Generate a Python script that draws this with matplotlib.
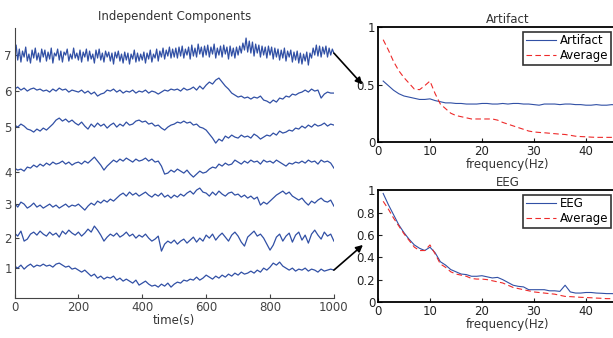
import numpy as np
import matplotlib.pyplot as plt

# time axis of the components (s)
t = np.arange(0, 1001, 10)
t7 = np.arange(0, 1001, 5)

# independent components (arbitrary units)
comp1 = [0.2, 0.0, 0.3, -0.1, 0.2, 0.4, 0.1, 0.3, 0.2, 0.4,
         0.2, 0.3, 0.1, 0.4, 0.5, 0.3, 0.1, 0.2, -0.1, 0.0,
         -0.2, -0.4, -0.2, -0.5, -0.8, -0.6, -1.0, -0.8, -1.1, -0.9,
         -1.0, -0.8, -1.2, -1.0, -1.3, -1.1, -1.3, -1.5, -1.2, -1.7,
         -1.5, -1.3, -1.6, -1.8, -1.7, -1.9, -1.6, -1.8, -1.5, -1.9,
         -1.6, -1.4, -1.5, -1.2, -1.3, -1.1, -1.2, -0.9, -1.2, -1.0,
         -0.7, -0.9, -1.1, -0.8, -1.0, -0.7, -0.9, -0.6, -0.8, -0.5,
         -0.7, -0.4, -0.6, -0.5, -0.3, -0.5, -0.2, -0.4, 0.0, -0.2,
         0.1, 0.5, 0.3, 0.6, 0.2, 0.0, -0.2, 0.0, -0.3, -0.1,
         -0.2, 0.0, -0.3, -0.1, -0.2, -0.4, -0.1, -0.3, -0.2, -0.1,
         -0.2]
comp2 = [0.5, 0.2, 0.7, -0.3, -0.1, 0.4, 0.6, 0.3, 0.7, 0.4,
         0.2, 0.6, 0.3, 0.5, 0.1, 0.7, 0.4, 0.8, 0.5, 0.3,
         0.6, 0.2, 0.5, 0.9, 0.6, 1.2, 0.8, 0.3, -0.3, 0.1,
         0.4, 0.2, 0.5, 0.1, 0.3, 0.6, 0.2, 0.4, 0.0, 0.3,
         0.1, 0.4, 0.0, -0.3, -0.1, 0.2, -1.3, -0.6, -0.3, -0.5,
         -0.2, -0.6, -0.3, -0.1, -0.5, -0.2, 0.1, -0.4, 0.0, -0.3,
         0.3, 0.0, 0.4, -0.2, 0.2, 0.5, 0.1, -0.3, 0.3, 0.6,
         0.2, -0.4, -0.8, 0.1, 0.4, 0.7, 0.2, 0.4, 0.0, -0.6,
         -1.2, -0.7, 0.1, 0.4, -0.3, 0.2, 0.5, -0.4, 0.3, 0.6,
         -0.2, 0.3, -0.5, 0.4, 0.8, 0.3, -0.1, 0.6, 0.2, 0.4,
         -0.3]
comp3 = [0.1, -0.3, 0.2, 0.0, -0.4, -0.2, 0.1, -0.3, -0.1, -0.4,
         -0.2, 0.0, -0.3, -0.1, -0.4, -0.2, 0.0, -0.3, -0.1, -0.2,
         0.0, -0.3, -0.6, -0.2, 0.1, -0.1, 0.3, 0.1, 0.4, 0.2,
         0.5, 0.3, 0.6, 0.9, 1.1, 0.8, 1.2, 0.9, 1.1, 0.8,
         1.0, 1.2, 0.9, 0.7, 1.0, 0.8, 1.1, 0.7, 0.9, 0.6,
         0.9, 0.7, 1.0, 0.8, 1.1, 1.3, 1.0, 1.4, 1.6, 1.2,
         1.1, 0.8, 1.2, 0.9, 1.3, 1.0, 0.8, 1.1, 1.2, 0.9,
         1.0, 0.7, 0.9, 0.6, 0.8, 0.5, 0.7, -0.1, 0.2, 0.0,
         0.3, 0.6, 0.9, 1.1, 1.3, 1.0, 1.2, 0.8, 0.6, 0.4,
         0.6, 0.2, -0.1, 0.3, 0.1, 0.4, 0.6, 0.3, 0.2, 0.4,
         -0.2]
comp4 = [0.4, 0.2, 0.3, 0.1, 0.5, 0.4, 0.7, 0.5, 0.8, 0.6,
         0.9, 0.7, 1.0, 0.8, 0.9, 1.1, 0.8, 1.0, 0.7, 0.9,
         1.0, 0.8, 1.1, 0.9, 1.2, 1.5, 1.1, 0.7, 0.2, 0.6,
         0.9, 1.2, 1.0, 1.3, 1.1, 1.4, 1.2, 1.0, 1.3, 1.1,
         1.2, 1.4, 1.1, 1.3, 1.0, 1.1, 0.6, -0.2, -0.1, 0.2,
         0.0, 0.3, 0.1, -0.1, 0.2, -0.2, -0.5, -0.2, 0.1, -0.1,
         0.0, 0.3, 0.5, 0.4, 0.8, 0.6, 0.9, 0.7, 0.8, 1.2,
         1.0, 0.8, 1.1, 0.9, 1.2, 1.0, 1.1, 0.8, 1.2, 1.0,
         1.1, 0.9, 1.2, 1.0, 0.8, 0.6, 0.9, 0.8, 1.0, 0.9,
         1.1, 0.9, 1.2, 1.0, 1.1, 0.8, 1.2, 1.0, 1.1, 0.9,
         0.4]
comp5 = [0.2, 0.0, 0.3, 0.1, -0.2, -0.3, -0.5, -0.2, -0.4, -0.1,
         -0.3, 0.0, 0.3, 0.7, 0.9, 0.6, 0.8, 0.5, 0.7, 0.4,
         0.2, 0.5, 0.1, -0.2, 0.3, 0.0, 0.4, 0.1, 0.3, -0.1,
         0.2, 0.4, 0.0, 0.3, 0.1, 0.5, 0.2, 0.3, 0.6, 0.7,
         0.5, 0.6, 0.3, 0.4, 0.1, 0.2, -0.1, -0.3, 0.0, 0.2,
         0.3, 0.5, 0.4, 0.6, 0.4, 0.5, 0.2, 0.3, 0.0, -0.1,
         -0.3, -0.7, -1.1, -1.6, -1.2, -1.4, -0.9, -1.1, -0.8, -1.0,
         -1.1, -0.8, -1.0, -0.9, -1.1, -0.7, -0.9, -1.2, -1.0, -0.8,
         -0.9, -0.6, -0.8, -0.4, -0.6, -0.5, -0.3, -0.4, -0.1, -0.2,
         0.1, -0.1, 0.2, 0.0, 0.3, 0.1, 0.2, 0.4, 0.1, 0.3,
         0.2]
comp6 = [0.2, 0.4, 0.1, 0.3, 0.0, 0.2, 0.3, 0.1, 0.2, 0.0,
         0.1, -0.1, 0.2, 0.0, 0.3, 0.1, 0.2, -0.1, 0.1, 0.0,
         -0.1, 0.1, -0.2, 0.0, -0.3, -0.1, -0.5, -0.3, -0.2, 0.1,
         0.0, 0.2, -0.1, 0.1, -0.2, 0.0, -0.1, 0.1, -0.2, 0.0,
         -0.1, 0.1, -0.2, 0.0, -0.1, -0.3, -0.1, 0.1, 0.0, 0.2,
         0.1, 0.2, 0.0, 0.3, 0.1, 0.2, 0.4, 0.1, 0.5, 0.2,
         0.6, 0.9, 0.7, 1.1, 1.3, 0.9, 0.5, 0.2, -0.2, -0.4,
         -0.6, -0.5, -0.7, -0.6, -0.8, -0.6, -0.7, -0.5, -0.9, -1.0,
         -1.2, -0.9, -1.1, -0.7, -0.8, -0.5, -0.6, -0.3, -0.4, -0.2,
         -0.1, 0.1, -0.1, 0.2, 0.0, 0.1, -0.7, -0.3, -0.1, -0.2,
         -0.2]
# component 7 is much noisier, read at a finer step (5 s)
comp7 = [0.3, 1.0, -0.5, 0.6, -0.7, 0.4, -0.2, 0.8, -0.6, 0.1, -0.8, 0.5, -0.3, 0.7, -0.5, 0.2, -0.7, 0.6, -0.2, 0.5,
         -0.6, 0.3, -0.4, 0.7, -0.8, 0.2, -0.1, 0.6, -0.5, 0.4, -0.7, 0.3, 0.0, 0.6, -0.6, 0.1, -0.4, 0.7, -0.3, 0.2,
         -0.5, 0.5, -0.7, 0.3, -0.2, 0.6, -0.6, 0.4, -0.4, 0.1, -0.8, 0.5, -0.3, 0.6, -0.5, 0.2, -0.7, 0.4, -0.2, 0.3,
         -0.6, 0.2, -0.9, 0.3, -0.3, 0.4, -0.6, 0.1, -0.8, 0.3, -0.5, 0.2, -0.9, 0.1, -0.4, 0.5, -0.7, 0.2, -0.6, 0.1,
         -0.5, 0.3, -0.8, 0.2, -0.4, 0.5, -0.7, 0.1, -0.3, 0.6, -0.6, 0.4, -0.2, 0.7, -0.4, 0.5, -0.1, 0.8, -0.3, 0.6,
         -0.2, 0.7, -0.3, 0.8, -0.1, 0.9, -0.3, 0.6, 0.0, 0.8, -0.4, 1.0, -0.1, 0.7, -0.2, 1.1, 0.1, 0.8, -0.2, 0.9,
         0.0, 1.0, -0.2, 0.8, 0.1, 1.1, -0.3, 0.7, 0.0, 0.9, -0.2, 1.0, 0.1, 0.8, -0.4, 0.9, -0.1, 0.7, -0.3, 0.8,
         0.0, 0.9, 0.2, 1.2, 0.5, 1.7, 0.3, 1.4, 0.2, 1.3, -0.1, 1.1, 0.2, 1.0, -0.2, 0.9, 0.0, 0.8, -0.3, 0.9,
         0.0, 0.8, -0.4, 0.7, -0.2, 0.6, -0.5, 0.5, -0.3, 0.7, -0.6, 0.4, -0.2, 0.5, -0.7, 0.3, -0.5, 0.4, -0.8, 0.2,
         -0.9, 0.1, -0.6, 0.3, -1.0, 0.2, -0.3, 0.7, 0.0, 1.0, -0.1, 0.9, -0.2, 0.8, 0.1, 0.9, -0.2, 0.7, 0.0, 0.6,
         0.2]
components = [comp1, comp2, comp3, comp4, comp5, comp6, comp7]
offsets = [3.0, 6.0, 9.4, 12.6, 17.1, 20.7, 24.3]
comp_labels = ['1', '2', '3', '4', '5', '6', '7']

# spectra
freq = np.arange(1, 51)
artifact = [0.53, 0.49, 0.45, 0.42, 0.40, 0.39, 0.38, 0.37, 0.37, 0.375,
            0.36, 0.35, 0.34, 0.34, 0.335, 0.335, 0.33, 0.33, 0.33, 0.335,
            0.335, 0.33, 0.33, 0.335, 0.33, 0.335, 0.335, 0.33, 0.33, 0.325,
            0.32, 0.33, 0.33, 0.33, 0.325, 0.33, 0.33, 0.325, 0.325, 0.32,
            0.32, 0.325, 0.32, 0.32, 0.325, 0.32, 0.32, 0.32, 0.32, 0.32]
art_avg = [0.89, 0.80, 0.70, 0.62, 0.56, 0.51, 0.46, 0.455, 0.49, 0.53,
           0.42, 0.33, 0.29, 0.25, 0.23, 0.22, 0.21, 0.20, 0.20, 0.20,
           0.20, 0.20, 0.19, 0.17, 0.155, 0.14, 0.125, 0.11, 0.095, 0.087,
           0.083, 0.08, 0.076, 0.072, 0.068, 0.065, 0.058, 0.05, 0.047, 0.045,
           0.042, 0.04, 0.04, 0.04, 0.04, 0.04, 0.04, 0.04, 0.04, 0.04]
eeg = [0.97, 0.87, 0.78, 0.69, 0.62, 0.56, 0.51, 0.48, 0.46, 0.49,
       0.44, 0.36, 0.33, 0.29, 0.27, 0.25, 0.245, 0.23, 0.23, 0.235,
       0.225, 0.215, 0.22, 0.20, 0.175, 0.15, 0.14, 0.135, 0.11, 0.11,
       0.11, 0.11, 0.10, 0.10, 0.095, 0.15, 0.09, 0.08, 0.08, 0.085,
       0.085, 0.08, 0.078, 0.075, 0.075, 0.072, 0.07, 0.07, 0.07, 0.07]
eeg_avg = [0.90, 0.83, 0.75, 0.68, 0.61, 0.55, 0.49, 0.46, 0.46, 0.51,
           0.43, 0.34, 0.31, 0.27, 0.25, 0.24, 0.23, 0.21, 0.205, 0.205,
           0.20, 0.19, 0.18, 0.17, 0.15, 0.13, 0.12, 0.11, 0.10, 0.09,
           0.085, 0.08, 0.075, 0.07, 0.06, 0.05, 0.048, 0.045, 0.042, 0.04,
           0.038, 0.035, 0.033, 0.03, 0.03, 0.03, 0.03, 0.03, 0.03, 0.03]

blue = '#3150a5'
red = '#ee2a2a'
grey = '#444444'

fig = plt.figure(figsize=(6.13, 3.38), dpi=100)

# left: stacked components
ax = fig.add_axes([0.0237, 0.118, 0.521, 0.799])
for c, off in zip(components, offsets):
    tt = t7 if len(c) == len(t7) else t
    ax.plot(tt, np.array(c) + off, color=blue, lw=0.9)
ax.set_xlim(0, 1000)
ax.set_ylim(0, 27)
ax.set_yticks(offsets)
ax.set_yticklabels(comp_labels)
ax.set_xticks([0, 200, 400, 600, 800, 1000])
for s in ['top', 'right']:
    ax.spines[s].set_visible(False)
for s in ['left', 'bottom']:
    ax.spines[s].set_color(grey)
ax.tick_params(direction='in', length=3, colors=grey, labelsize=8.5, pad=2)
ax.set_xlabel('time(s)', fontsize=8.5, color='#333333', labelpad=0)
ax.set_title('Independent Components', fontsize=8.5, color='#333333', pad=6)

# right: spectra
ax_a = fig.add_axes([0.6166, 0.580, 0.424, 0.340])
ax_e = fig.add_axes([0.6166, 0.1065, 0.424, 0.331])
for a, y1, y2, name in [(ax_a, artifact, art_avg, 'Artifact'),
                        (ax_e, eeg, eeg_avg, 'EEG')]:
    a.plot(freq, y1, color=blue, lw=0.8, label=name)
    a.plot(freq, y2, color=red, lw=0.8, ls=(0, (5, 3)), label='Average')
    a.set_xlim(0, 50)
    a.set_ylim(0, 1)
    a.set_xticks([0, 10, 20, 30, 40])
    for s in a.spines.values():
        s.set_linewidth(1.3)
    a.tick_params(direction='in', length=3, colors='#222222', labelsize=8.5, pad=2)
    a.set_xlabel('frequency(Hz)', fontsize=8.5, color='#333333', labelpad=0)
    a.set_title(name, fontsize=8.5, color='#333333', pad=3)
    leg = a.legend(loc='upper right', bbox_to_anchor=(0.896, 0.96), fontsize=8.5,
                   frameon=True, fancybox=False, handlelength=2.6,
                   borderpad=0.2, labelspacing=0.2, handletextpad=0.3,
                   borderaxespad=0)
    leg.get_frame().set_edgecolor('black')
    leg.get_frame().set_linewidth(1.2)
ax_a.set_yticks([0, 0.5, 1])
ax_a.set_yticklabels(['0', '0.5', '1'])
ax_e.set_yticks([0, 0.2, 0.4, 0.6, 0.8, 1])
ax_e.set_yticklabels(['0', '0.2', '0.4', '0.6', '0.8', '1'])

# arrows from components to spectra
ax_a.annotate('', xy=(-0.06, 0.5), xycoords='axes fraction',
              xytext=(1000, offsets[6] + comp7[-1]), textcoords=ax.transData,
              arrowprops=dict(arrowstyle='-|>', color='black', lw=1.2,
                              mutation_scale=10, shrinkA=0, shrinkB=0))
ax_e.annotate('', xy=(-0.058, 0.51), xycoords='axes fraction',
              xytext=(1000, offsets[0] + comp1[-1]), textcoords=ax.transData,
              arrowprops=dict(arrowstyle='-|>', color='black', lw=1.2,
                              mutation_scale=10, shrinkA=0, shrinkB=0))

fig.savefig('out.png', dpi=100)
